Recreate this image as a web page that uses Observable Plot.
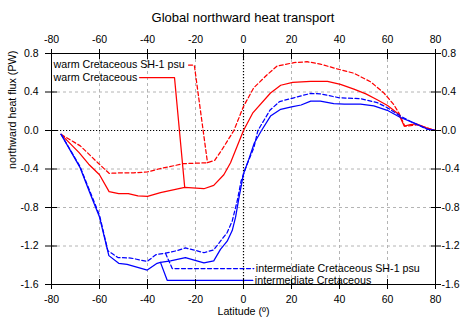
<!DOCTYPE html>
<html><head><meta charset="utf-8">
<script src="https://cdn.jsdelivr.net/npm/d3@7"></script>
<script src="https://cdn.jsdelivr.net/npm/@observablehq/plot@0.6"></script>
<style>
body{margin:0;background:#fff;}
#wrap{position:relative;width:465px;height:320px;font-family:"Liberation Sans",Arial,sans-serif;color:#000;}
#title{position:absolute;top:10px;left:243px;transform:translateX(-50%);white-space:nowrap;font-size:13px;line-height:15px;}
#chart{position:absolute;top:28px;left:0;}
</style></head><body>
<div id="wrap"><div id="title">Global northward heat transport</div><div id="chart"></div></div>
<script>
const title = "Global northward heat transport";
const xLabel = "Latitude (º)";
const yLabel = "northward heat flux (PW)";
const xTicks = [-80, -60, -40, -20, 0, 20, 40, 60, 80];
const yTicks = [-1.6, -1.2, -0.8, -0.4, 0, 0.4, 0.8];

const labels = ["warm Cretaceous SH-1 psu", "warm Cretaceous", "intermediate Cretaceous SH-1 psu", "intermediate Cretaceous"];

// [latitude, PW]
const warmSH = [[-76,-0.04],[-68,-0.16],[-60.5,-0.34],[-56,-0.445],[-51,-0.44],[-45.7,-0.44],[-40,-0.43],[-34.6,-0.395],[-25,-0.345],[-15,-0.335],[-12,-0.31],[-9,-0.2],[-4,0],[0,0.25],[4.3,0.445],[9.9,0.58],[14,0.67],[21,0.705],[26.5,0.715],[32,0.69],[39,0.64],[46,0.595],[53,0.505],[58.5,0.39],[62.6,0.27],[65,0.17],[67.2,0.045],[69.6,0.05],[72.4,0.06],[76,0.03],[80,0]];
const warm = [[-76,-0.04],[-68.5,-0.23],[-64.5,-0.35],[-60,-0.46],[-56,-0.635],[-52,-0.655],[-48,-0.655],[-44,-0.68],[-40,-0.685],[-34.6,-0.645],[-24.5,-0.59],[-16.5,-0.605],[-12.4,-0.57],[-8.2,-0.46],[-5.4,-0.335],[-2.6,-0.16],[0,0],[3.8,0.18],[11.25,0.39],[15.5,0.47],[20.5,0.5],[28,0.51],[35,0.51],[40.4,0.48],[46,0.43],[51,0.38],[55.7,0.32],[60,0.26],[64.7,0.17],[67,0.045],[69.5,0.06],[72,0.07],[76,0.03],[80,0]];
const interSH = [[-76,-0.04],[-68.2,-0.37],[-60,-0.88],[-56.5,-1.25],[-52.3,-1.32],[-47,-1.325],[-40.1,-1.36],[-36.5,-1.29],[-32.5,-1.275],[-28,-1.25],[-24.2,-1.22],[-19.3,-1.25],[-16.5,-1.27],[-12.4,-1.24],[-9.6,-1.15],[-6.8,-1.06],[-4.7,-0.94],[-2.6,-0.73],[-1,-0.525],[1.5,-0.35],[4.3,-0.18],[6,0],[11,0.21],[15,0.3],[21,0.34],[24,0.36],[28,0.385],[32,0.38],[40,0.34],[48.75,0.33],[55.7,0.29],[59.9,0.237],[65.4,0.15],[71,0.075],[76.5,0.015],[80,0]];
const inter = [[-76,-0.04],[-68.2,-0.38],[-64,-0.65],[-60,-0.9],[-56.1,-1.3],[-52,-1.38],[-48.5,-1.39],[-40.1,-1.45],[-36,-1.38],[-34.6,-1.37],[-30.4,-1.355],[-24.2,-1.32],[-16.5,-1.375],[-12.4,-1.355],[-9.6,-1.235],[-6.8,-1.15],[-4.7,-1.04],[-3.3,-0.9],[-1.9,-0.7],[0,-0.45],[2.2,-0.3],[4.5,-0.13],[7.5,0],[11.25,0.15],[15.5,0.22],[20,0.245],[24,0.265],[28,0.305],[32,0.305],[37.6,0.28],[42,0.275],[48.75,0.275],[54.3,0.255],[59.9,0.21],[65.4,0.135],[71,0.08],[76.5,0.015],[80,0]];

// key samples as drawn, joined to the curves
const warmSHKey = [[-22.9,0.68],[-20.5,0.68],[-15,-0.335]];
const warmKey = [[-43.3,0.55],[-28.75,0.55],[-24.5,-0.59]];
const interSHKey = [[-32.5,-1.275],[-29.7,-1.434],[4.3,-1.434]];
const interKey = [[-34.6,-1.37],[-31.8,-1.556],[3.9,-1.556]];

const red = "#ff0000", blue = "#0000ff";
const fmtY = d => d.toFixed(1);
const fmtX = d => String(d);
const px = d => d[0], py = d => d[1];

const legendLeft = [
  {label: labels[0], x: xTicks[0], y: warmSHKey[0][1]},
  {label: labels[1], x: xTicks[0], y: warmKey[0][1]}
];
const legendRight = [
  {label: labels[2], x: interSHKey[2][0], y: interSHKey[2][1]},
  {label: labels[3], x: interKey[2][0], y: interKey[2][1]}
];

const lw = 1.25;
const chart = Plot.plot({
  width: 465, height: 292,
  marginTop: 25, marginBottom: 36, marginLeft: 51, marginRight: 30,
  style: {fontSize: "10.5px", fontFamily: "Liberation Sans, Arial, sans-serif", background: "white", color: "black", overflow: "visible"},
  x: {domain: [-80, 80], label: null},
  y: {domain: [-1.6, 0.8], label: null},
  marks: [
    Plot.gridX(xTicks.filter(d => d !== 0), {stroke: "#b4b4b4", strokeOpacity: 1, strokeDasharray: "3,3"}),
    Plot.gridY(yTicks.filter(d => d !== 0), {stroke: "#b4b4b4", strokeOpacity: 1, strokeDasharray: "3,3"}),
    Plot.ruleX([0], {stroke: "black", strokeDasharray: "1.2,1.8", strokeWidth: 1.2}),
    Plot.ruleY([0], {stroke: "black", strokeDasharray: "1.2,1.8", strokeWidth: 1.2}),
    Plot.line(warmSH, {x: px, y: py, stroke: red, strokeWidth: lw, strokeDasharray: "4,2.5"}),
    Plot.line(warmSHKey, {x: px, y: py, stroke: red, strokeWidth: lw, strokeDasharray: "4,2.5"}),
    Plot.line(warm, {x: px, y: py, stroke: red, strokeWidth: lw}),
    Plot.line(warmKey, {x: px, y: py, stroke: red, strokeWidth: lw}),
    Plot.line(interSH, {x: px, y: py, stroke: blue, strokeWidth: lw, strokeDasharray: "4,2.5"}),
    Plot.line(interSHKey, {x: px, y: py, stroke: blue, strokeWidth: lw, strokeDasharray: "4,2.5"}),
    Plot.line(inter, {x: px, y: py, stroke: blue, strokeWidth: lw}),
    Plot.line(interKey, {x: px, y: py, stroke: blue, strokeWidth: lw}),
    Plot.text(legendLeft, {x: "x", y: "y", text: "label", textAnchor: "start", dx: 2, fill: "black", fontSize: 10.7}),
    Plot.text(legendRight, {x: "x", y: "y", text: "label", textAnchor: "start", dx: 2, fill: "black", fontSize: 10.7}),
    Plot.frame({stroke: "black", strokeWidth: 1}),
    Plot.axisX(xTicks, {anchor: "bottom", tickSize: 5, tickPadding: 6, tickFormat: fmtX, label: null}),
    Plot.axisX(xTicks, {anchor: "top", tickSize: 5, tickPadding: 6, tickFormat: fmtX, label: null}),
    Plot.axisX(xTicks, {anchor: "bottom", tickSize: -5, tickFormat: () => "", label: null}),
    Plot.axisX(xTicks, {anchor: "top", tickSize: -5, tickFormat: () => "", label: null}),
    Plot.axisY(yTicks, {anchor: "left", tickSize: 6, tickPadding: 7, tickFormat: fmtY, label: null}),
    Plot.axisY(yTicks, {anchor: "right", tickSize: 5, tickPadding: 1, tickFormat: fmtY, label: null}),
    Plot.axisY(yTicks, {anchor: "left", tickSize: -6, tickFormat: () => "", label: null}),
    Plot.axisY(yTicks, {anchor: "right", tickSize: -5, tickFormat: () => "", label: null}),
    Plot.text([xLabel], {frameAnchor: "bottom", dy: 30, text: d => d, fill: "black", fontSize: 10.7}),
    Plot.text([yLabel], {frameAnchor: "left", dx: -39, rotate: -90, text: d => d, fill: "black", fontSize: 10.7})
  ]
});
document.getElementById("chart").appendChild(chart);
</script>
</body></html>
